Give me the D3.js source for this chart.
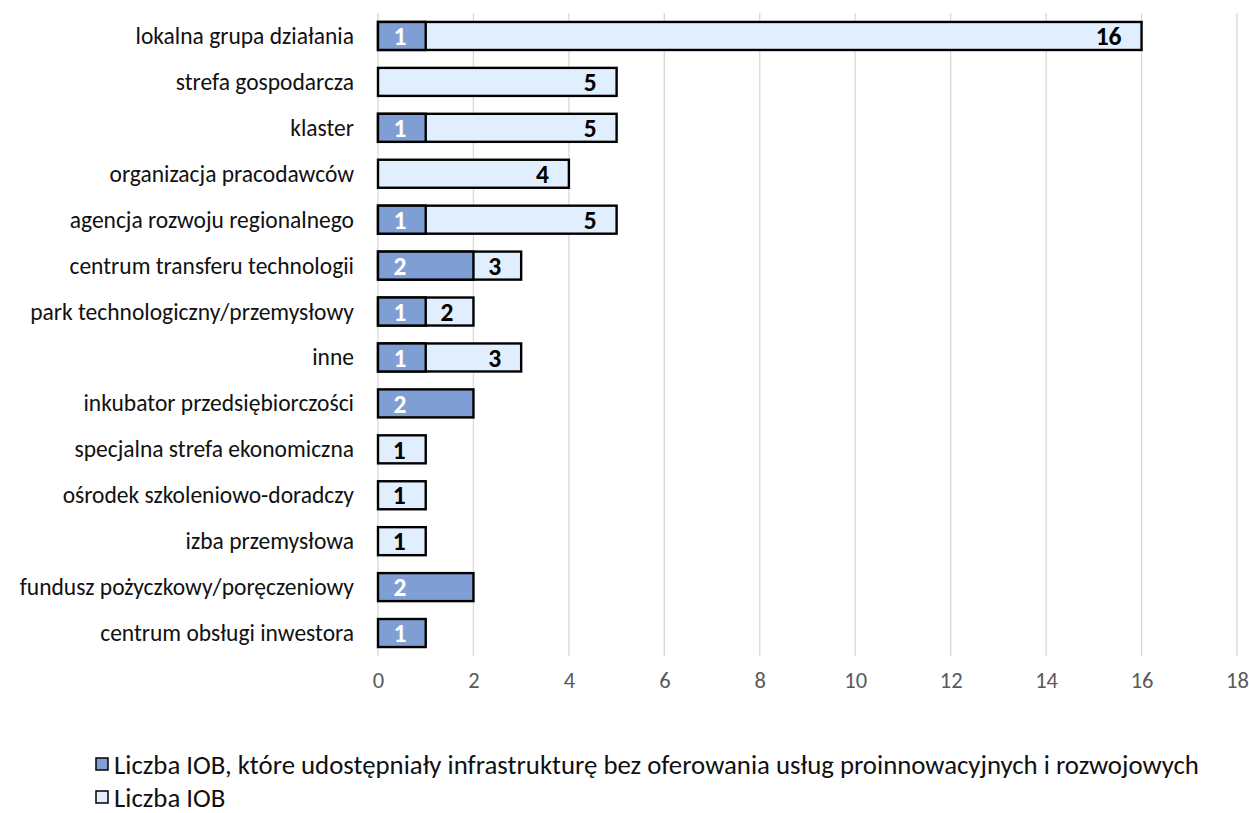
<!DOCTYPE html>
<html><head><meta charset="utf-8">
<script src="https://cdn.jsdelivr.net/npm/d3@7"></script>
<style>body{margin:0;background:#fff}</style>
</head><body><svg id="c" width="1249" height="813"></svg>
<script>
const categories = ["lokalna grupa działania","strefa gospodarcza","klaster","organizacja pracodawców","agencja rozwoju regionalnego","centrum transferu technologii","park technologiczny/przemysłowy","inne","inkubator przedsiębiorczości","specjalna strefa ekonomiczna","ośrodek szkoleniowo-doradczy","izba przemysłowa","fundusz pożyczkowy/poręczeniowy","centrum obsługi inwestora"];
const infraValues = [1,0,1,0,1,2,1,1,2,0,0,0,2,1];
const iobValues = [16,5,5,4,5,3,2,3,0,1,1,1,0,0];
const xTicks = [0,2,4,6,8,10,12,14,16,18];
const seriesNames = ["Liczba IOB, które udostępniały infrastrukturę bez oferowania usług proinnowacyjnych i rozwojowych","Liczba IOB"];
const colors = ["#7F9ED3","#E1EEFD"];

const font = "Carlito, Calibri, Lato, 'Open Sans', sans-serif";
const svg = d3.select("#c");
const x = d3.scaleLinear().domain([0,18]).range([378,1237]);
const y = d3.scaleBand().domain(categories).range([13,656]).paddingInner(0.39).paddingOuter(0.195);

// gridlines
svg.append("g").selectAll("line").data(xTicks).join("line")
  .attr("x1",d=>x(d)).attr("x2",d=>x(d)).attr("y1",13).attr("y2",656)
  .attr("stroke","#D9D9D9").attr("stroke-width",1.3);

// x axis labels
const ax = svg.append("g").attr("transform","translate(0,656)").call(d3.axisBottom(x).tickValues(xTicks).tickSize(0).tickPadding(16));
ax.select(".domain").remove();
ax.selectAll("text").attr("font-family",font).attr("font-size",22.5).attr("fill","#595959");

// y axis labels
const ay = svg.append("g").attr("transform","translate(378,0)").call(d3.axisLeft(y).tickSize(0).tickPadding(24));
ay.select(".domain").remove();
ay.selectAll("text").attr("font-family",font).attr("font-size",23.5).attr("fill","#111").attr("dy","0.34em");

const rows = categories.map((c,i)=>({c, a:infraValues[i], b:iobValues[i]}));
// light bars
svg.append("g").selectAll("rect").data(rows.filter(d=>d.b>0)).join("rect")
  .attr("x",x(0)).attr("y",d=>y(d.c)).attr("width",d=>x(d.b)-x(0)).attr("height",y.bandwidth())
  .attr("fill",colors[1]).attr("stroke","#000").attr("stroke-width",2.4);
// dark bars
svg.append("g").selectAll("rect").data(rows.filter(d=>d.a>0)).join("rect")
  .attr("x",x(0)).attr("y",d=>y(d.c)).attr("width",d=>x(d.a)-x(0)).attr("height",y.bandwidth())
  .attr("fill",colors[0]).attr("stroke","#000").attr("stroke-width",2.4);

// labels
svg.append("g").selectAll("text").data(rows.filter(d=>d.b>0)).join("text")
  .attr("x",d=>x(d.b)-20).attr("y",d=>y(d.c)+y.bandwidth()/2).attr("dy","0.36em")
  .attr("text-anchor","end").attr("font-family",font).attr("font-weight","bold").attr("font-size",25.5)
  .attr("fill","#000").text(d=>d.b);
svg.append("g").selectAll("text").data(rows.filter(d=>d.a>0)).join("text")
  .attr("x",x(0)+22).attr("y",d=>y(d.c)+y.bandwidth()/2).attr("dy","0.36em")
  .attr("text-anchor","middle").attr("font-family",font).attr("font-weight","bold").attr("font-size",25.5)
  .attr("fill","#fff").text(d=>d.a);

// legend
const lg = svg.append("g");
seriesNames.forEach((n,i)=>{
  const yy = 764 + i*33;
  lg.append("rect").attr("x",96).attr("y",yy-6).attr("width",12).attr("height",12)
    .attr("fill",colors[i]).attr("stroke","#000").attr("stroke-width",1.5);
  lg.append("text").attr("x",114).attr("y",yy).attr("dy","0.36em").attr("font-family",font)
    .attr("font-size",26.8).attr("fill","#111").text(n);
});
</script></body></html>
